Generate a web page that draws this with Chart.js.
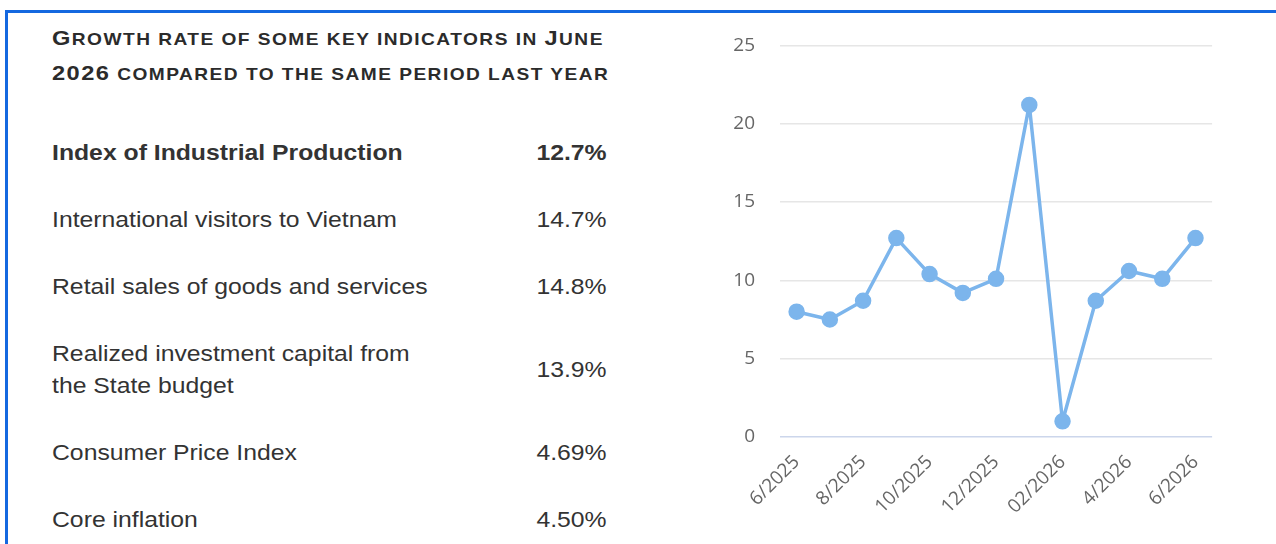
<!DOCTYPE html>
<html lang="en">
<head>
    <meta charset="UTF-8">
    <title>Growth rate of some key indicators</title>
    <script src="https://cdn.jsdelivr.net/npm/chart.js"></script>
    <style>
        body {
            margin: 0;
            width: 1276px;
            height: 544px;
            overflow: hidden;
            background: #fff;
            font-family: 'Liberation Sans', Arial, sans-serif;
            color: #333;
        }

        .frame {
            position: absolute;
            left: 5px;
            top: 10px;
            width: 1280px;
            height: 540px;
            border-top: 3px solid #1468e0;
            border-left: 3px solid #1468e0;
        }

        .panel {
            position: absolute;
            left: 52px;
            top: 0;
            width: 493px;
            height: 544px;
            transform: scaleX(1.125);
            transform-origin: 0 0;
        }

        .title {
            position: absolute;
            left: 0;
            top: 21px;
            white-space: nowrap;
            font-weight: bold;
            line-height: 33px;
            letter-spacing: 1.3px;
            color: #2b2b2b;
        }

        .title .big { font-size: 21px; }
        .title .sc { font-size: 17px; }

        .row {
            position: absolute;
            left: 0;
            width: 493px;
            font-size: 22px;
            line-height: 32px;
            display: flex;
            justify-content: space-between;
            align-items: center;
        }

        .row.bold { font-weight: bold; }

        .chart-box {
            position: absolute;
            left: 702px;
            top: 9px;
            width: 524px;
            height: 535px;
        }
    </style>
</head>
<body>
    <div class="frame"></div>

    <div class="panel">
        <div class="title" id="title"></div>
        <div id="rows"></div>
    </div>

    <div class="chart-box">
        <canvas id="growthChart"></canvas>
    </div>

    <script>
        var titleLines = [
            'Growth rate of some key indicators in June',
            '2026 compared to the same period last year'
        ];

        var indicatorNames = [
            'Index of Industrial Production',
            'International visitors to Vietnam',
            'Retail sales of goods and services',
            'Realized investment capital from<br>the State budget',
            'Consumer Price Index',
            'Core inflation'
        ];
        var indicatorRates = ['12.7%', '14.7%', '14.8%', '13.9%', '4.69%', '4.50%'];

        var months = ['6/2025', '7/2025', '8/2025', '9/2025', '10/2025', '11/2025', '12/2025',
                      '1/2026', '02/2026', '3/2026', '4/2026', '5/2026', '6/2026'];
        var iipGrowth = [8.0, 7.5, 8.7, 12.7, 10.4, 9.2, 10.1, 21.2, 1.0, 8.7, 10.6, 10.1, 12.7];
        var yTicks = [0, 5, 10, 15, 20, 25];

        // small caps by hand: capitals and digits big, the rest upper-cased and small
        var titleEl = document.getElementById('title');
        titleEl.innerHTML = titleLines.map(function (line) {
            return line.split('').map(function (ch) {
                if (/[A-Z0-9]/.test(ch)) return '<span class="big">' + ch + '</span>';
                return '<span class="sc">' + ch.toUpperCase() + '</span>';
            }).join('');
        }).join('<br>');

        // table rows on the left
        var rowTops = [137, 204, 271, 338, 437, 504];
        var rowsEl = document.getElementById('rows');
        for (var i = 0; i < indicatorNames.length; i++) {
            var row = document.createElement('div');
            row.className = 'row' + (i === 0 ? ' bold' : '');
            row.style.top = rowTops[i] + 'px';
            row.innerHTML = '<span>' + indicatorNames[i] + '</span><span>' + indicatorRates[i] + '</span>';
            rowsEl.appendChild(row);
        }

        var ctx = document.getElementById('growthChart').getContext('2d');
        var growthChart = new Chart(ctx, {
            type: 'line',
            data: {
                labels: months,
                datasets: [{
                    label: 'Index of Industrial Production',
                    data: iipGrowth,
                    borderColor: '#7cb5ec',
                    backgroundColor: '#7cb5ec',
                    borderWidth: 3.5,
                    borderJoinStyle: 'round',
                    pointRadius: 6.5,
                    pointHoverRadius: 6.5,
                    tension: 0,
                    fill: false
                }]
            },
            options: {
                responsive: true,
                maintainAspectRatio: false,
                animation: false,
                layout: { padding: 0 },
                plugins: {
                    legend: { display: false },
                    tooltip: { enabled: false }
                },
                scales: {
                    x: {
                        offset: true,
                        grid: { display: false, drawTicks: false },
                        border: { display: false },
                        afterFit: function (scale) { scale.height = 107; },
                        ticks: {
                            autoSkip: false,
                            maxRotation: 45,
                            minRotation: 45,
                            padding: 14,
                            color: '#666',
                            font: { family: 'Open Sans', size: 19 },
                            callback: function (value, index) {
                                return index % 2 === 0 ? months[index] : '';
                            }
                        }
                    },
                    y: {
                        min: yTicks[0],
                        max: yTicks[yTicks.length - 1],
                        afterFit: function (scale) { scale.width = 78; },
                        afterBuildTicks: function (scale) {
                            scale.ticks = yTicks.map(function (v) { return { value: v }; });
                        },
                        grid: {
                            drawTicks: false,
                            lineWidth: 1.5,
                            color: function (c) {
                                return c.tick && c.tick.value === 0 ? '#ccd6eb' : '#e6e6e6';
                            }
                        },
                        border: { display: false },
                        ticks: {
                            padding: 25,
                            color: '#666',
                            font: { family: 'Open Sans', size: 19 }
                        }
                    }
                }
            }
        });
    </script>
</body>
</html>
